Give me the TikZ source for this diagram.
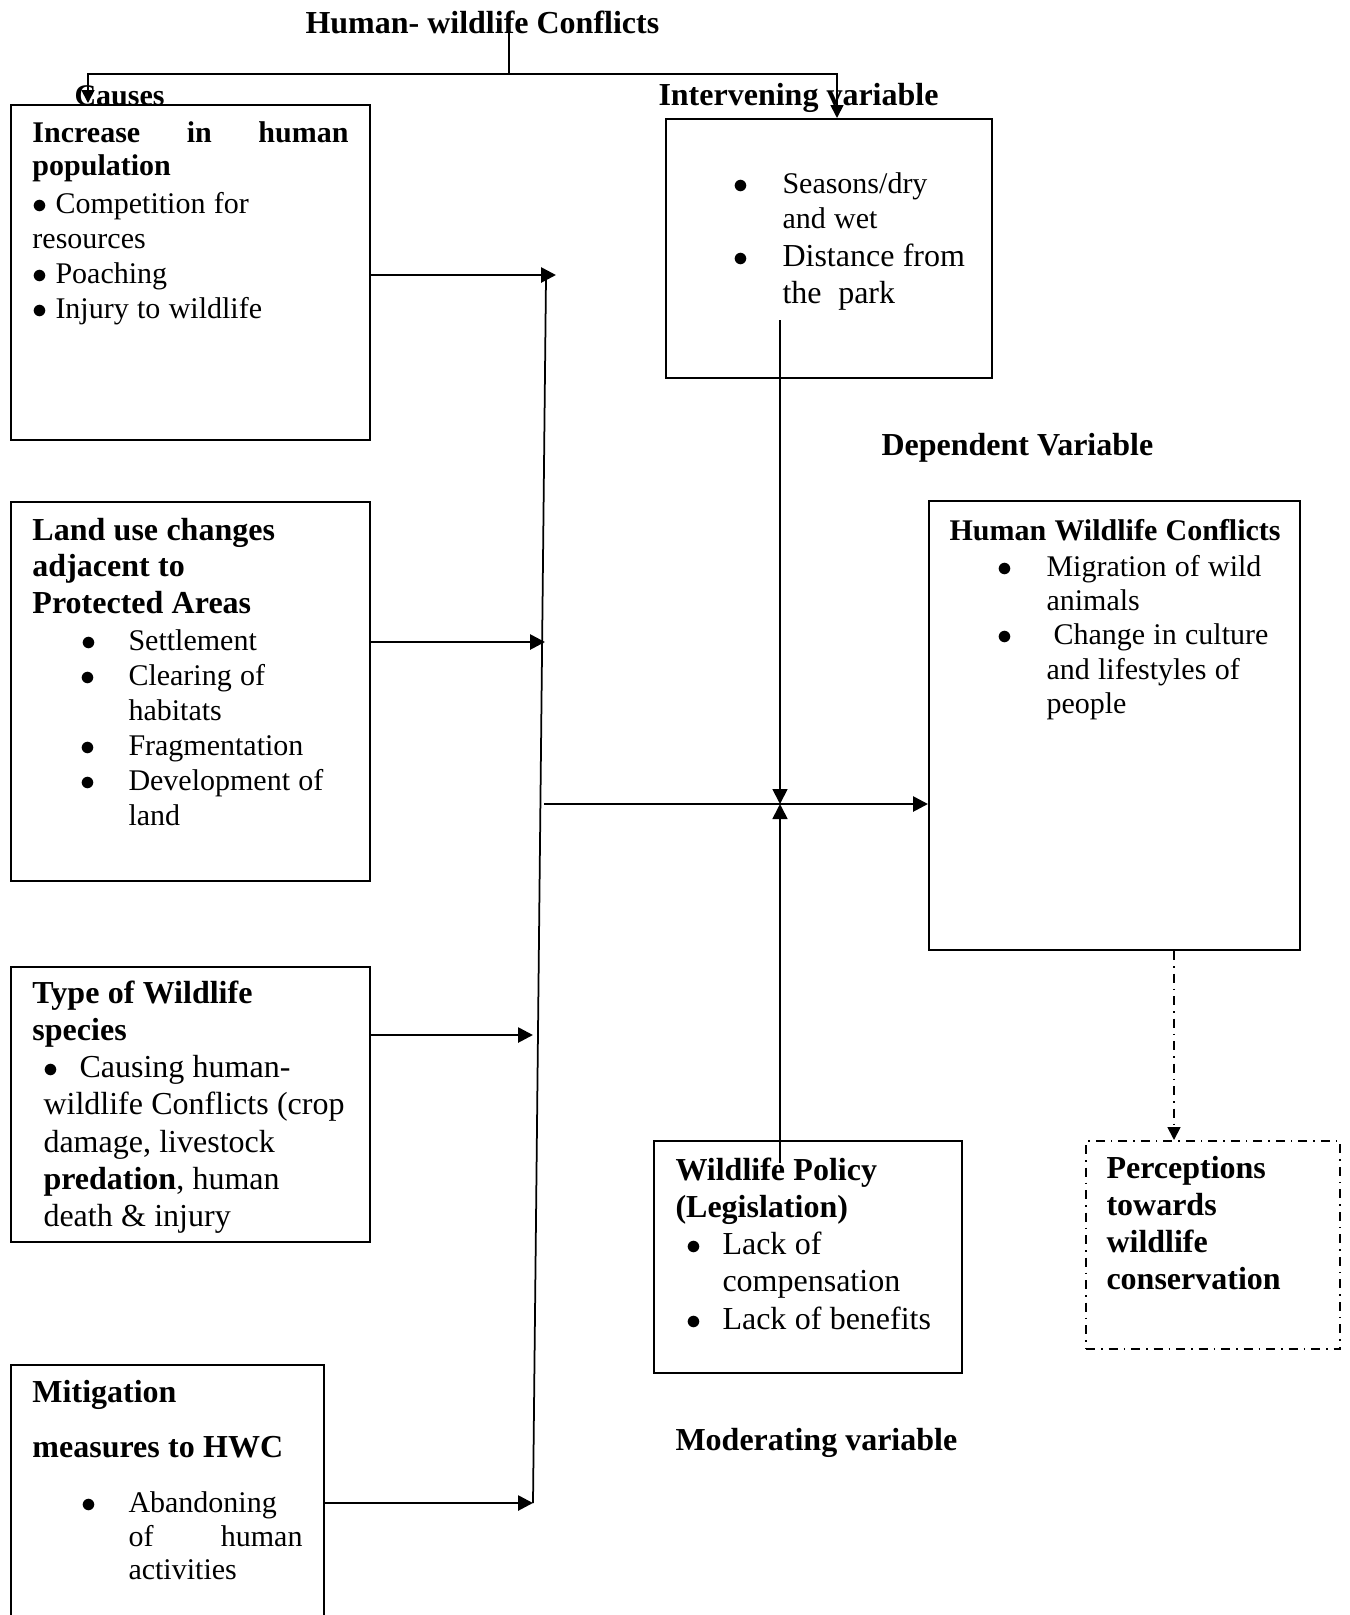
\documentclass[tikz,border=0pt]{standalone}
\usepackage{fontspec}
\setmainfont{Liberation Serif}
\usetikzlibrary{arrows.meta}
\newcommand\smalltxt{\fontsize{12}{14}\selectfont}
\newcommand\bigtxt{\fontsize{12.8}{14.9}\selectfont}
\newcommand\blob{\ensuremath{\bullet}}
\newcommand\bul[1]{\leavevmode\llap{\blob\hspace{#1}}}
\tikzset{frame/.style={draw,line width=0.8pt,anchor=north west,inner sep=0pt},
  dashframe/.style={frame,dash pattern=on 3.6pt off 2.4pt on 0.6pt off 2.4pt},
  words/.style={anchor=base west,inner sep=0pt,text width=#1},
  head/.style={anchor=base west,inner sep=0pt,font=\bigtxt\bfseries},
  feed/.style={-{Triangle[length=6pt,width=6pt]},line width=1.1pt},
  lead/.style={line width=0.7pt},
  pin/.style={lead,-{Triangle[length=6pt,width=6pt]}}}

\begin{document}
\begin{tikzpicture}[x=0.4pt,y=-0.4pt]
\useasboundingbox (0,0) rectangle (1350,1615);
\node[frame,minimum width=143.6pt,minimum height=134pt] (pop) at (10,104) {};
\node[frame,minimum width=143.6pt,minimum height=151.6pt] (land) at (10,501) {};
\node[frame,minimum width=143.6pt,minimum height=110pt] (species) at (10,966) {};
\node[frame,minimum width=125.2pt,minimum height=112pt] (mitig) at (10,1364) {};
\node[frame,minimum width=130.4pt,minimum height=103.6pt] (season) at (665,118) {};
\node[frame,minimum width=148.4pt,minimum height=179.6pt] (hwc) at (928,500) {};
\node[frame,minimum width=123.2pt,minimum height=92.8pt] (policy) at (653,1140) {};
\node[dashframe,minimum width=101.6pt,minimum height=83.2pt] (percep) at (1085,1140) {};

\node[head] (title) at (305,33) {Human- wildlife Conflicts};
\node[head,font=\smalltxt\bfseries] (causes) at (74,105) {Causes};
\node[head] (intervening) at (658,105) {Intervening variable};
\node[head] (dependent) at (881,455) {Dependent Variable};
\node[head] (moderating) at (675,1450) {Moderating variable};

\node[words=126.4pt] (poptext) at (32,142) {{\fontsize{12}{13.4}\selectfont\bfseries
  Increase\hfill in\hfill human\\population\par}
  \vspace{1pt}\smalltxt
  \blob\hspace{3.2pt}Competition for\\resources\\
  \blob\hspace{3.2pt}Poaching\\\blob\hspace{3.2pt}Injury to wildlife\par};
\node[words=140pt] (landtext) at (32,540) {{\fontsize{12.8}{14.6}\selectfont\bfseries
  Land use changes\\adjacent to\\Protected Areas\par}
  \vspace{0.8pt}\smalltxt\leftskip=38.4pt
  \bul{13pt}Settlement\\\bul{13pt}Clearing of\\habitats\\
  \bul{13pt}Fragmentation\\\bul{13pt}Development of\\land\par};
\node[words=140pt] (spectext) at (32,1003) {{\bigtxt\bfseries Type of Wildlife\\species\par}
  \bigtxt\leftskip=4.4pt
  \blob\hspace{8.4pt}Causing human-\\wildlife Conflicts (crop\\damage, livestock\\
  \textbf{predation}, human\\death \& injury\par};
\node[words=108pt] (mitigtext) at (32,1402) {{\fontsize{12.8}{22}\selectfont\bfseries
  Mitigation\\measures to HWC\par}
  \vspace{8.9pt}\fontsize{12}{13.4}\selectfont\leftskip=38.4pt
  \bul{13pt}Abandoning\\of\hfill human\\activities\par};
\node[words=84pt] (seasontext) at (782,193) {\smalltxt
  \bul{13.8pt}Seasons/dry\\and wet\par
  \vspace{0.4pt}\fontsize{12.8}{14.8}\selectfont\bul{13.8pt}Distance from\\the\ \ park\par};
\node[words=140pt] (hwctext) at (949,540) {{\smalltxt\bfseries Human Wildlife Conflicts\par}
  \vspace{0.8pt}\fontsize{12}{13.7}\selectfont\leftskip=38.8pt
  \bul{13.8pt}Migration of wild\\animals\\
  \bul{13.8pt}\hspace*{2.8pt}Change in culture\\and lifestyles of\\people\par};
\node[words=112pt] (policytext) at (675,1180) {{\bigtxt\bfseries Wildlife Policy\\(Legislation)\par}
  \bigtxt\leftskip=18.8pt
  \bul{8.6pt}Lack of\\compensation\\\bul{8.6pt}Lack of benefits\par};
\node[words=96pt] (perceptext) at (1106,1178) {\bigtxt\bfseries
  Perceptions\\towards\\wildlife\\conservation\par};

\coordinate (split) at (509,74);
\coordinate (causein) at (88,103);
\coordinate (railtop) at (546,278);
\coordinate (railend) at (533,1503);
\coordinate (join1) at (556,275);
\coordinate (join2) at (545,642);
\coordinate (join3) at (533,1035);
\coordinate (join4) at (533,1503);
\coordinate (trunk) at (544,804);
\coordinate (hub) at (780,804);
\coordinate (drop) at (780,320);
\coordinate (rise) at (780,1163);
\coordinate (link) at (1174,1140);

\draw[lead] (split |- title.base) -- (split);
\draw[lead,-{Triangle[length=5.2pt,width=5.2pt]}] (split) -| (causein);
\draw[lead,-{Triangle[length=5.2pt,width=5.2pt]}] (split) -| ([xshift=3.2pt]season.north);
\draw[feed] (pop.east |- join1) -- (join1);
\draw[feed] (land.east |- join2) -- (join2);
\draw[feed] (species.east |- join3) -- (join3);
\draw[feed] (mitig.east |- join4) -- (join4);
\draw[lead] (railtop) -- (railend);
\draw[feed] (trunk) -- (hwc.west |- trunk);
\draw[pin] (drop) -- (hub);
\draw[pin] (rise) -- (hub);
\draw[lead,dash pattern=on 3.6pt off 2.4pt on 0.6pt off 2.4pt,
  -{Triangle[length=5.2pt,width=5.2pt]}] (hwc.south -| link) -- (link);
\end{tikzpicture}
\end{document}
